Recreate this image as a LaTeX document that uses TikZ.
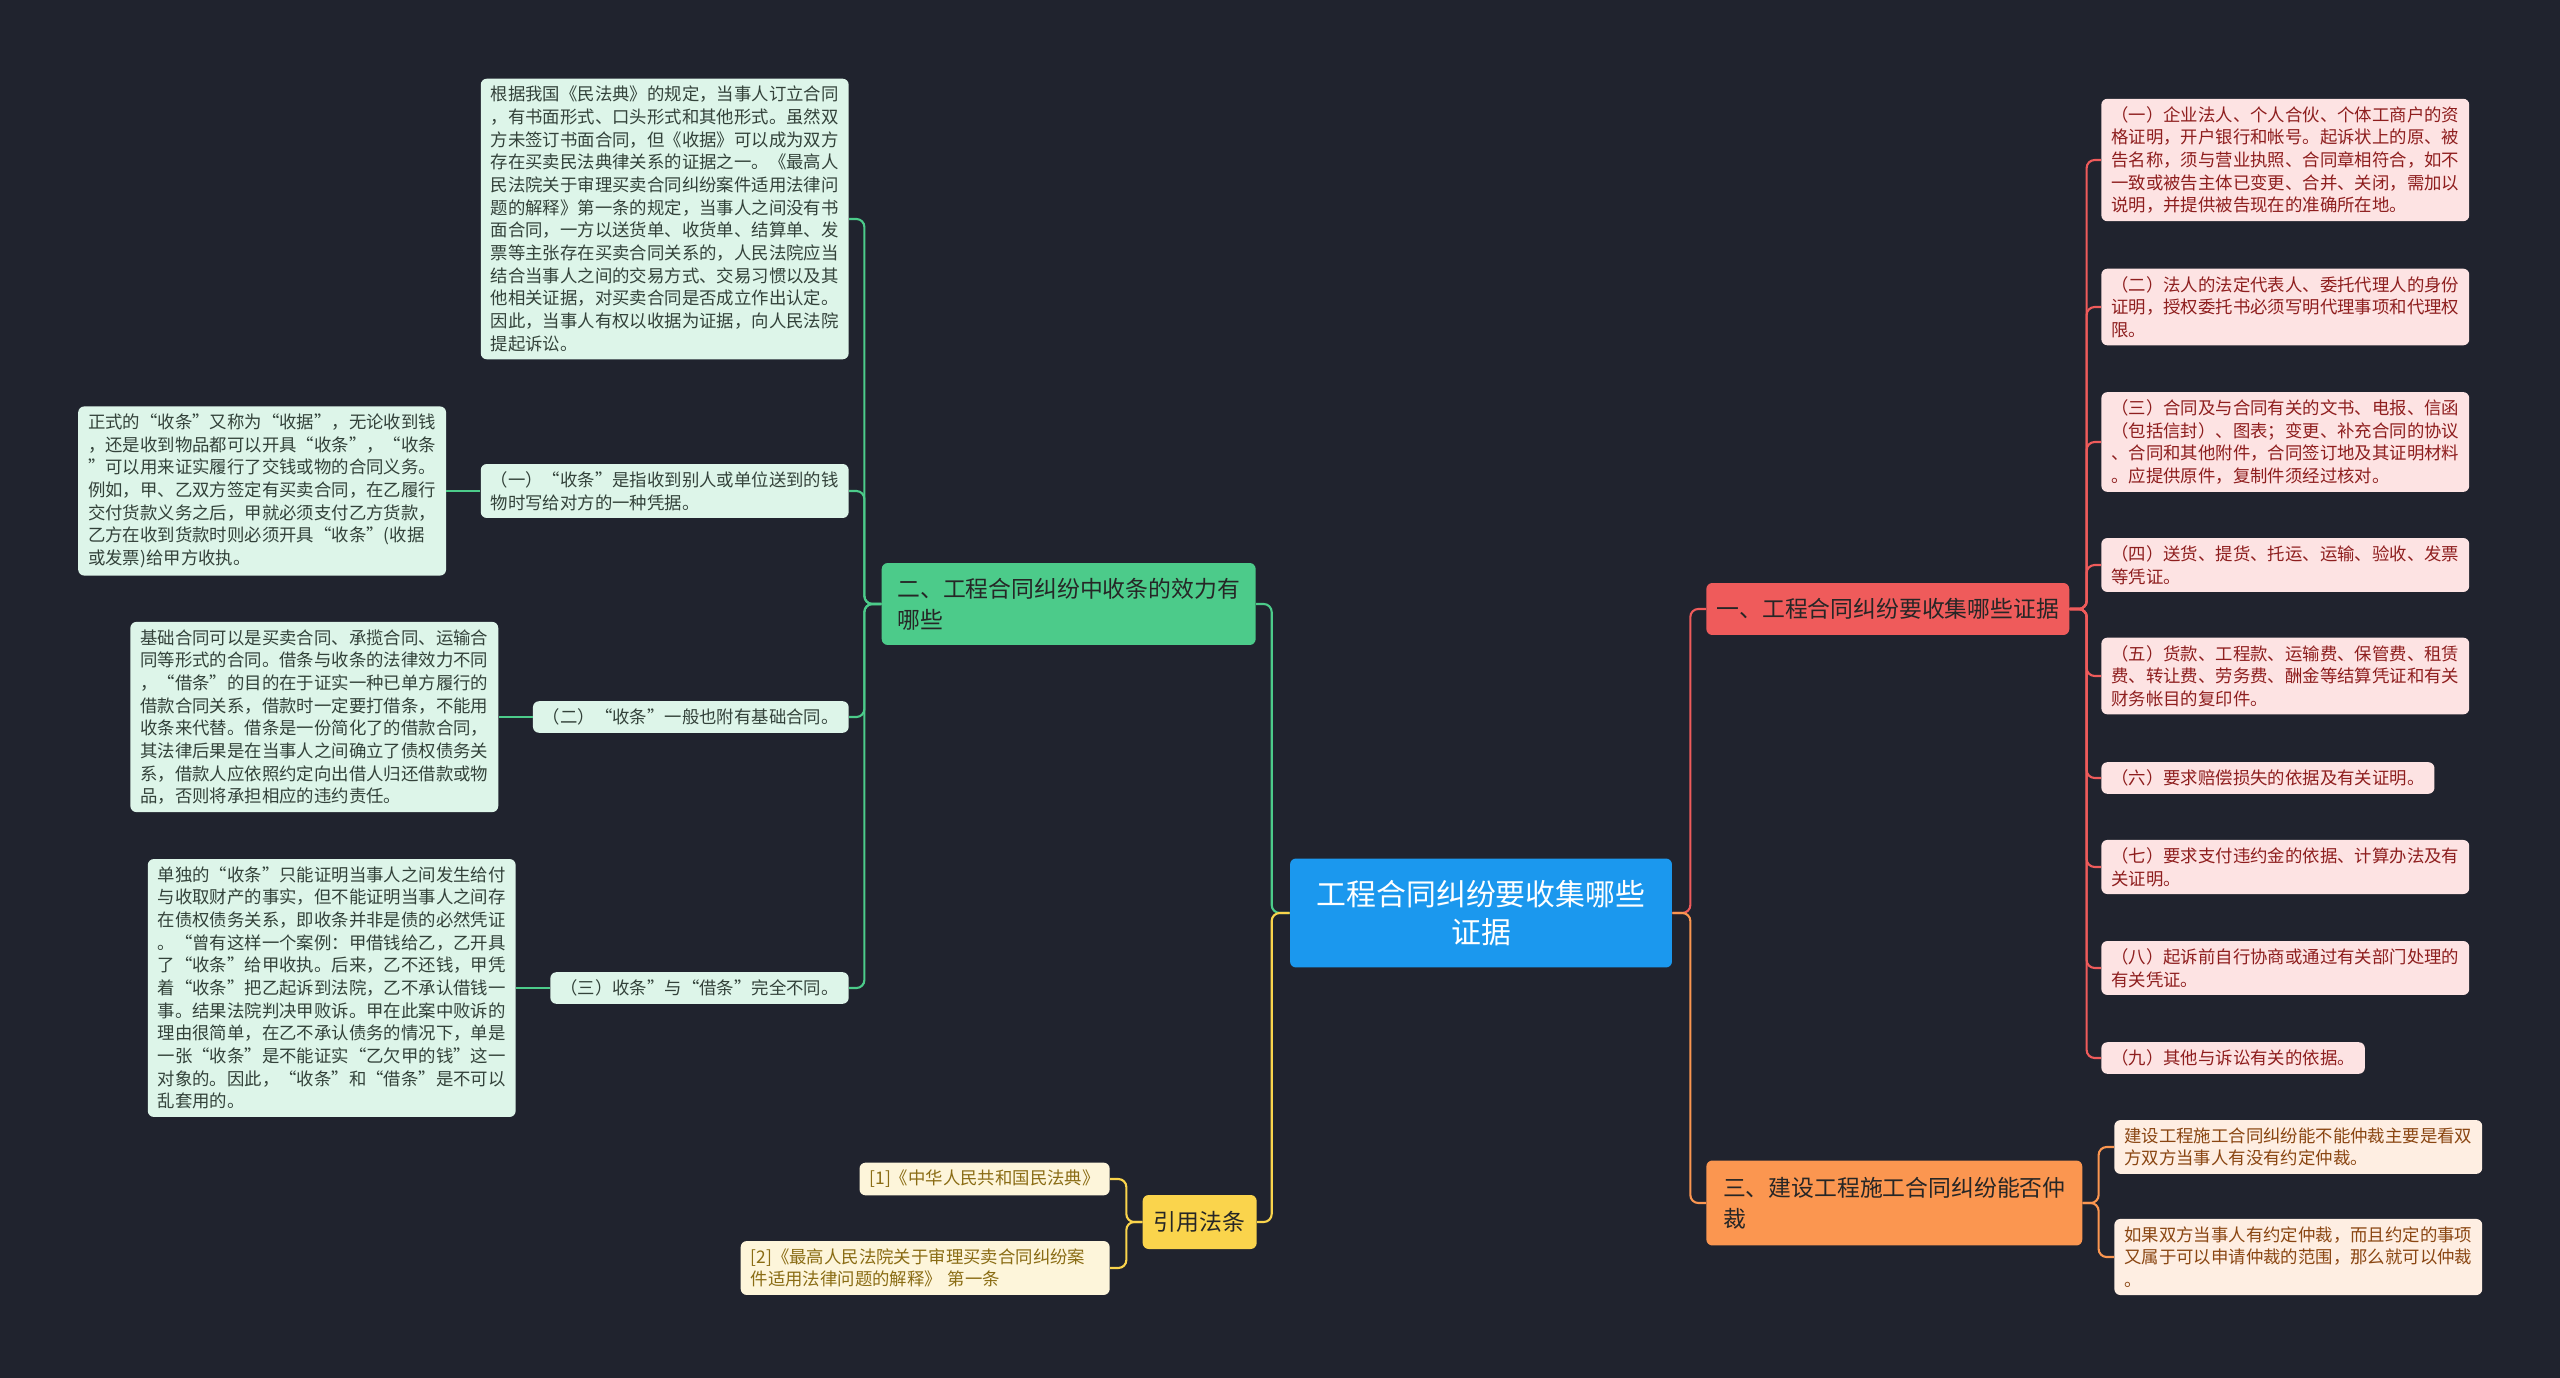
\documentclass[tikz,border=0pt]{standalone}
\usepackage{fontspec}
\newfontfamily\cjk{Noto Sans CJK SC}
\usetikzlibrary{positioning}
\definecolor{bg}{HTML}{20232E}
\definecolor{rootc}{HTML}{1B98EE}
\definecolor{grn}{HTML}{4CCB8A}
\definecolor{grnleaf}{HTML}{DDF5E9}
\definecolor{grntext}{HTML}{33423A}
\definecolor{red1}{HTML}{EF5B5B}
\definecolor{redleaf}{HTML}{FDE3E3}
\definecolor{redtext}{HTML}{8E1E1E}
\definecolor{org}{HTML}{FB9650}
\definecolor{orgleaf}{HTML}{FEEEE2}
\definecolor{orgtext}{HTML}{8A4612}
\definecolor{yel}{HTML}{FAD44C}
\definecolor{yelleaf}{HTML}{FDF5DA}
\definecolor{yeltext}{HTML}{8A6C14}

\begin{document}
\begin{tikzpicture}[x=0.02cm,y=-0.02cm,
	leaf/.style={rounded corners=0.12cm,inner xsep=0.2cm,inner ysep=0.15cm,align=left,
		font=\cjk\fontsize{9.9}{12.9}\selectfont},
	branch/.style={rounded corners=0.12cm,inner xsep=0.2cm,align=left,
		font=\cjk\fontsize{13}{17.6}\selectfont},
	link/.style={line width=1.2pt,rounded corners=0.16cm}]
	\fill[bg] (0,0) rectangle (2560,1378);
	\useasboundingbox (0,0) rectangle (2560,1378);
	% 中心主题
	\node[fill=rootc,text=white,rounded corners=0.12cm,align=center,
		font=\cjk\fontsize{17}{22}\selectfont,minimum width=7.64cm,minimum height=2.18cm]
		(root) at (1481,913) {工程合同纠纷要收集哪些\\证据};
	% 一级分支
	\node[branch,fill=red1,text=black!85,anchor=west,minimum width=7.26cm,minimum height=1.04cm]
		(zheng) at (1706,609) {一、工程合同纠纷要收集哪些证据};
	\node[branch,fill=grn,text=black!85,anchor=east,minimum width=7.48cm,minimum height=1.64cm]
		(shou) at (1256,604) {二、工程合同纠纷中收条的效力有\\哪些};
	\node[branch,fill=org,text=black!85,anchor=west,minimum width=7.52cm,minimum height=1.7cm]
		(zhong) at (1706,1203) {三、建设工程施工合同纠纷能否仲\\裁};
	\node[branch,fill=yel,text=black!85,anchor=east,minimum width=2.28cm,minimum height=1.08cm]
		(fa) at (1257,1222) {引用法条};
	% 证据清单
	\begin{scope}[every node/.style={leaf,fill=redleaf,text=redtext,anchor=west}]
		\node (z1) at (2101,160) {（一）企业法人、个人合伙、个体工商户的资\\格证明，开户银行和帐号。起诉状上的原、被\\告名称，须与营业执照、合同章相符合，如不\\一致或被告主体已变更、合并、关闭，需加以\\说明，并提供被告现在的准确所在地。};
		\node (z2) at (2101,307) {（二）法人的法定代表人、委托代理人的身份\\证明，授权委托书必须写明代理事项和代理权\\限。};
		\node (z3) at (2101,442) {（三）合同及与合同有关的文书、电报、信函\\（包括信封）、图表；变更、补充合同的协议\\、合同和其他附件，合同签订地及其证明材料\\。应提供原件，复制件须经过核对。};
		\node (z4) at (2101,565) {（四）送货、提货、托运、运输、验收、发票\\等凭证。};
		\node (z5) at (2101,676) {（五）货款、工程款、运输费、保管费、租赁\\费、转让费、劳务费、酬金等结算凭证和有关\\财务帐目的复印件。};
		\node (z6) at (2101,778) {（六）要求赔偿损失的依据及有关证明。};
		\node (z7) at (2101,867) {（七）要求支付违约金的依据、计算办法及有\\关证明。};
		\node (z8) at (2101,968) {（八）起诉前自行协商或通过有关部门处理的\\有关凭证。};
		\node (z9) at (2101,1058) {（九）其他与诉讼有关的依据。};
	\end{scope}
	% 收条
	\begin{scope}[every node/.style={leaf,fill=grnleaf,text=grntext}]
		\node[anchor=east] (s0) at (849,219) {根据我国《民法典》的规定，当事人订立合同\\，有书面形式、口头形式和其他形式。虽然双\\方未签订书面合同，但《收据》可以成为双方\\存在买卖民法典律关系的证据之一。《最高人\\民法院关于审理买卖合同纠纷案件适用法律问\\题的解释》第一条的规定，当事人之间没有书\\面合同，一方以送货单、收货单、结算单、发\\票等主张存在买卖合同关系的，人民法院应当\\结合当事人之间的交易方式、交易习惯以及其\\他相关证据，对买卖合同是否成立作出认定。\\因此，当事人有权以收据为证据，向人民法院\\提起诉讼。};
		\node[anchor=east] (s1) at (849,491) {（一）“收条”是指收到别人或单位送到的钱\\物时写给对方的一种凭据。};
		\node[anchor=east] (s2) at (849,717) {（二）“收条”一般也附有基础合同。};
		\node[anchor=east] (s3) at (849,988) {（三）收条”与“借条”完全不同。};
		\node[left=0.68cm of s1] (d1) {正式的“收条”又称为“收据”，无论收到钱\\，还是收到物品都可以开具“收条”，“收条\\”可以用来证实履行了交钱或物的合同义务。\\例如，甲、乙双方签定有买卖合同，在乙履行\\交付货款义务之后，甲就必须支付乙方货款，\\乙方在收到货款时则必须开具“收条”(收据\\或发票)给甲方收执。};
		\node[left=0.68cm of s2] (d2) {基础合同可以是买卖合同、承揽合同、运输合\\同等形式的合同。借条与收条的法律效力不同\\，“借条”的目的在于证实一种已单方履行的\\借款合同关系，借款时一定要打借条，不能用\\收条来代替。借条是一份简化了的借款合同，\\其法律后果是在当事人之间确立了债权债务关\\系，借款人应依照约定向出借人归还借款或物\\品，否则将承担相应的违约责任。};
		\node[left=0.68cm of s3] (d3) {单独的“收条”只能证明当事人之间发生给付\\与收取财产的事实，但不能证明当事人之间存\\在债权债务关系，即收条并非是债的必然凭证\\。“曾有这样一个案例：甲借钱给乙，乙开具\\了“收条”给甲收执。后来，乙不还钱，甲凭\\着“收条”把乙起诉到法院，乙不承认借钱一\\事。结果法院判决甲败诉。甲在此案中败诉的\\理由很简单，在乙不承认债务的情况下，单是\\一张“收条”是不能证实“乙欠甲的钱”这一\\对象的。因此，“收条”和“借条”是不可以\\乱套用的。};
	\end{scope}
	% 仲裁
	\node[leaf,fill=orgleaf,text=orgtext,anchor=west] (c1) at (2114,1147) {建设工程施工合同纠纷能不能仲裁主要是看双\\方双方当事人有没有约定仲裁。};
	\node[leaf,fill=orgleaf,text=orgtext,anchor=west] (c2) at (2114,1257) {如果双方当事人有约定仲裁，而且约定的事项\\又属于可以申请仲裁的范围，那么就可以仲裁\\。};
	% 法条
	\node[leaf,fill=yelleaf,text=yeltext,anchor=east] (f1) at (1110,1179) {[1]《中华人民共和国民法典》};
	\node[leaf,fill=yelleaf,text=yeltext,anchor=east,text width=6.98cm] (f2) at (1110,1268) {[2]《最高人民法院关于审理买卖合同纠纷案\\件适用法律问题的解释》 第一条};
	% 连线
	\draw[link,red1] (root.east) -- ++(18,0) |- (zheng.west);
	\draw[link,org] (root.east) -- ++(18,0) |- (zhong.west);
	\draw[link,grn] (root.west) -- ++(-18,0) |- (shou.east);
	\draw[link,yel] (root.west) -- ++(-18,0) |- (fa.east);
	\foreach \n in {z1,z2,z3,z4,z5,z6,z7,z8,z9}
		\draw[link,red1] (zheng.east) -- ++(17,0) |- (\n.west);
	\foreach \n in {s0,s1,s2,s3}
		\draw[link,grn] (shou.west) -- ++(-17,0) |- (\n.east);
	\foreach \n in {1,2,3}
		\draw[link,grn] (s\n.west) -- (d\n.east);
	\foreach \n in {c1,c2}
		\draw[link,org] (zhong.east) -- ++(16,0) |- (\n.west);
	\foreach \n in {f1,f2}
		\draw[link,yel] (fa.west) -- ++(-16,0) |- (\n.east);
\end{tikzpicture}
\end{document}
